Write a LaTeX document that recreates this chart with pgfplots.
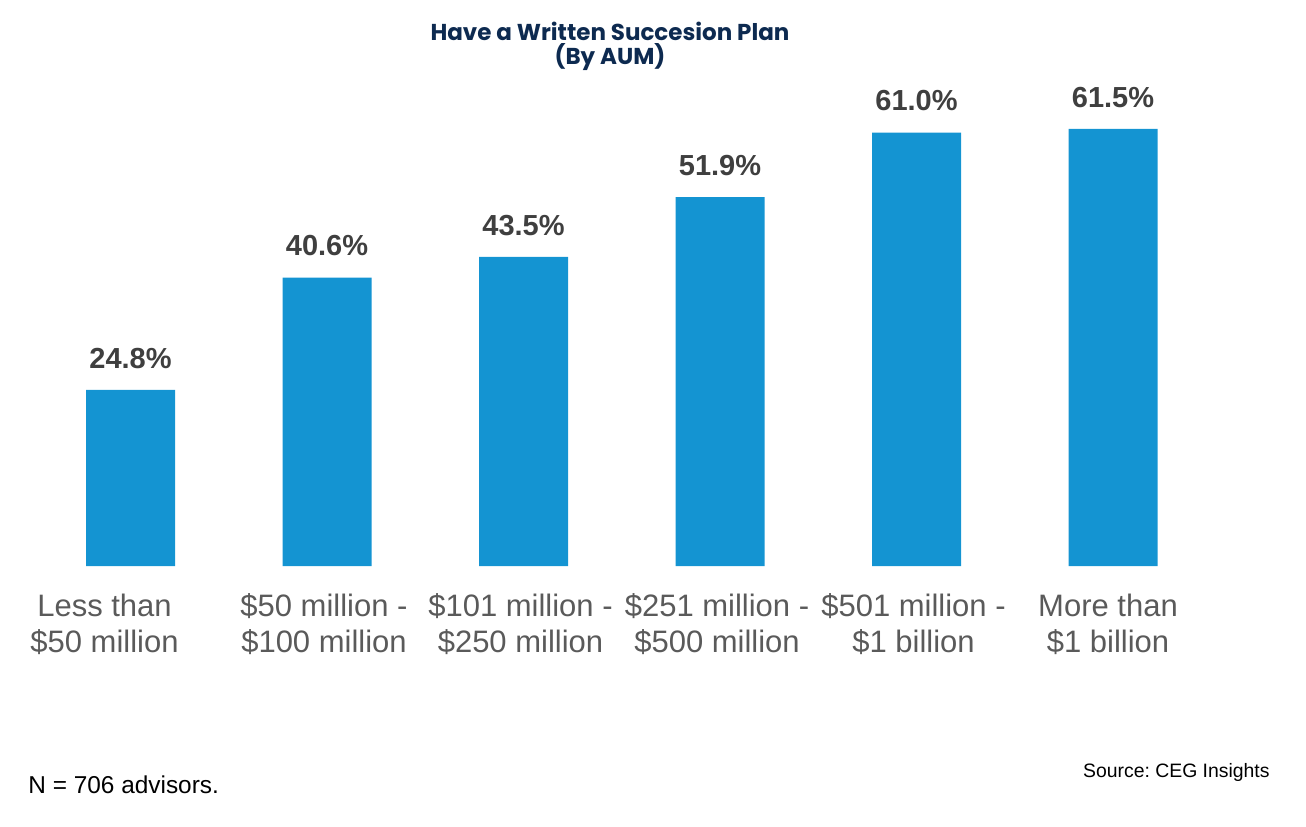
\documentclass[border=0pt]{standalone}
\usepackage{pgfplots}
\pgfplotsset{compat=1.18}
\usepackage{fontspec}
\setmainfont{Liberation Sans}
\newfontfamily\titlefont{Poppins}
\frenchspacing
\definecolor{barblue}{HTML}{1494D2}
\definecolor{titlenavy}{HTML}{0D2A50}
\definecolor{labgray}{HTML}{5A5A5A}
\definecolor{valgray}{HTML}{3F3F3F}
\begin{document}
\begin{tikzpicture}[x=1pt,y=1pt]
\path[use as bounding box] (0,0) rectangle (653,413);
\begin{axis}[
  at={(16.125pt,130pt)}, anchor=south west,
  scale only axis, width=589.5pt, height=248.7pt,
  xmin=-0.5, xmax=5.5, ymin=0, ymax=70,
  axis line style={draw=none},
  ytick=\empty,
  xtick=data,
  xtick style={draw=none},
  xticklabels={{Less than\hspace*{23pt}\\\$50 million\hspace*{23pt}},{\$50 million -\\\$100 million},{\$101 million -\\\$250 million},{\$251 million -\\\$500 million},{\$501 million -\\\$1 billion},{More than\hspace*{2pt}\\\$1 billion\hspace*{2pt}}},
  xticklabel style={align=center, inner sep=0pt, yshift=-9.5pt, xshift=-1.5pt, text=labgray, font=\fontsize{15.5}{18}\selectfont},
  ybar, bar width=44.5pt, bar shift=0pt,
  clip=false,
  /pgf/number format/assume math mode=true,
  nodes near coords={\pgfmathprintnumber[fixed,precision=1,fixed zerofill,assume math mode=true]{\pgfplotspointmeta}\%},
  nodes near coords style={anchor=south, inner sep=0pt, yshift=10.5pt, text=valgray, font=\bfseries\fontsize{14.5}{17}\selectfont},
]
\addplot[fill=barblue, draw=none] coordinates {(0,24.8) (1,40.6) (2,43.5) (3,51.9) (4,61.0) (5,61.5)};
\end{axis}
\node[anchor=base, text=titlenavy, font=\titlefont\bfseries\fontsize{11.5}{14}\selectfont] at (305,392.5) {Have a Written Succesion Plan};
\node[anchor=base, text=titlenavy, font=\titlefont\bfseries\fontsize{11.5}{14}\selectfont] at (305,380.5) {(By AUM)};
\node[anchor=base west, inner sep=0pt, font=\fontsize{12.2}{14}\selectfont] at (14,16.5) {N = 706 advisors.};
\node[anchor=base east, inner sep=0pt, font=\fontsize{9.7}{11}\selectfont] at (635,24.5) {Source: CEG Insights};
\end{tikzpicture}
\end{document}
